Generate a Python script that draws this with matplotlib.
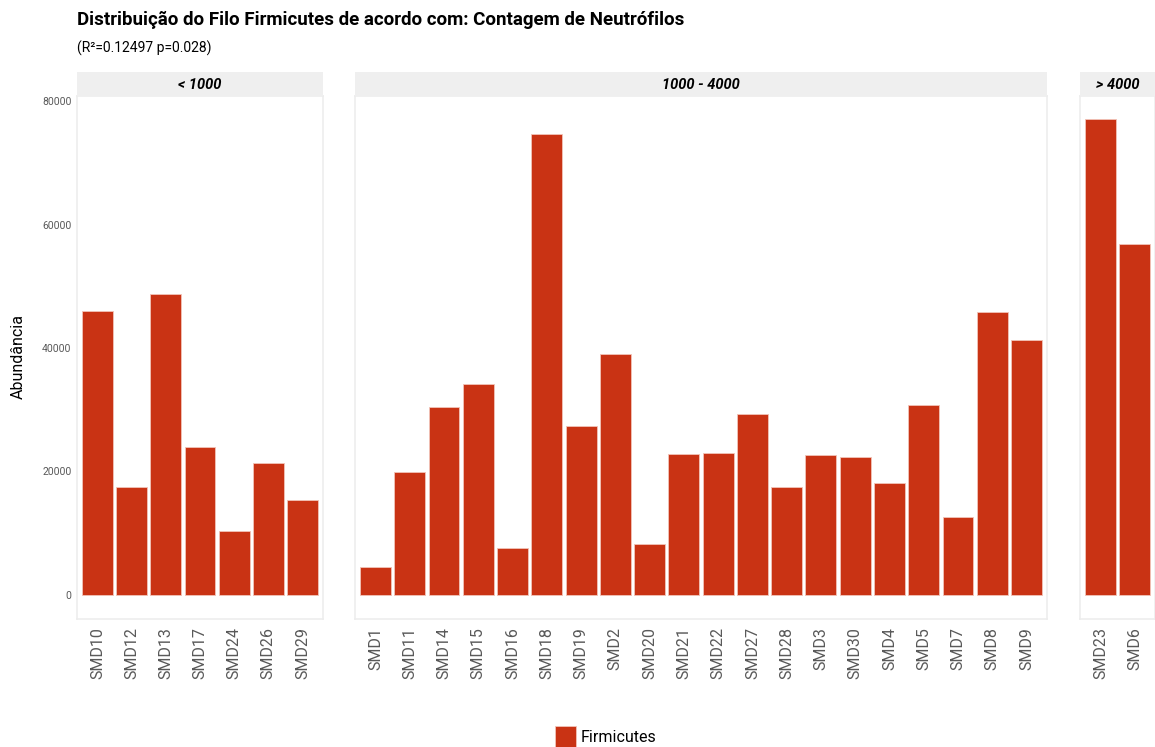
import matplotlib
matplotlib.use("Agg")
import matplotlib.pyplot as plt
from matplotlib import font_manager
from matplotlib.patches import Rectangle

# pick a narrow sans if there is one
names = {f.name for f in font_manager.fontManager.ttflist}
font = "Liberation Sans Narrow" if "Liberation Sans Narrow" in names else "Roboto"
plt.rcParams["font.family"] = [font, "DejaVu Sans"]

# Firmicutes abundance per sample, grouped by neutrophil count
grupos = ["< 1000", "1000 - 4000", "> 4000"]
amostras_1 = ["SMD10", "SMD12", "SMD13", "SMD17", "SMD24", "SMD26", "SMD29"]
valores_1 = [46000, 17500, 48700, 23900, 10300, 21400, 15350]
amostras_2 = ["SMD1", "SMD11", "SMD14", "SMD15", "SMD16", "SMD18", "SMD19", "SMD2",
              "SMD20", "SMD21", "SMD22", "SMD27", "SMD28", "SMD3", "SMD30", "SMD4",
              "SMD5", "SMD7", "SMD8", "SMD9"]
valores_2 = [4600, 19850, 30400, 34150, 7600, 74700, 27350, 38950,
             8250, 22900, 23000, 29250, 17550, 22600, 22300, 18100,
             30750, 12600, 45800, 41250]
amostras_3 = ["SMD23", "SMD6"]
valores_3 = [77050, 56850]

cor = "#C93314"
W, H = 1155, 747
fig = plt.figure(figsize=(W / 100, H / 100), dpi=100)

# panel extents in pixels (left, right)
paineis = [(77, 323), (355, 1047), (1080, 1155)]
top, bottom = 96, 619
strip_h = 24
dados = [(amostras_1, valores_1), (amostras_2, valores_2), (amostras_3, valores_3)]

ymin, ymax = -3887, 80810
for k, ((x0, x1), (nomes, vals)) in enumerate(zip(paineis, dados)):
    ax = fig.add_axes([x0 / W, 1 - bottom / H, (x1 - x0) / W, (bottom - top) / H])
    pos = list(range(len(nomes)))
    ax.bar(pos, vals, width=0.9, color=cor, edgecolor="#F2C4B8", linewidth=0.6)
    ax.set_xlim(-0.6, len(nomes) - 0.4)
    ax.set_ylim(ymin, ymax)
    ax.set_xticks(pos)
    ax.set_xticklabels(nomes, rotation=90, fontsize=11.5, color="#595959")
    ax.tick_params(axis="x", length=0, pad=6)
    ax.tick_params(axis="y", length=0, pad=4)
    if k == 0:
        ax.set_yticks([0, 20000, 40000, 60000, 80000])
        ax.set_yticklabels(["0", "20000", "40000", "60000", "80000"],
                           fontsize=7.5, color="#595959")
    else:
        ax.set_yticks([])
    for s in ax.spines.values():
        s.set_color("#EDEDED")
        s.set_linewidth(1.2)
    # facet strip
    sax = fig.add_axes([x0 / W, 1 - top / H, (x1 - x0) / W, strip_h / H])
    sax.set_facecolor("#EFEFEF")
    sax.set_xticks([])
    sax.set_yticks([])
    for s in sax.spines.values():
        s.set_visible(False)
    sax.text(0.5, 0.45, grupos[k], ha="center", va="center", fontsize=10.5,
             fontweight="bold", fontstyle="italic", transform=sax.transAxes)

fig.text(18 / W, 1 - 357 / H, "Abundância", rotation=90, fontsize=11.5,
         ha="center", va="center")
fig.text(77 / W, 1 - 20 / H, "Distribuição do Filo Firmicutes de acordo com: Contagem de Neutrófilos",
         fontsize=13.5, fontweight="bold", ha="left", va="center")
fig.text(77 / W, 1 - 48 / H, "(R²=0.12497 p=0.028)", fontsize=10, ha="left", va="center")

# legend
fig.patches.append(Rectangle((555 / W, 1 - 747 / H), 21 / W, 21 / H, transform=fig.transFigure,
                             facecolor=cor, edgecolor="#F2C4B8", linewidth=0.6))
fig.text(581 / W, 1 - 737 / H, "Firmicutes", fontsize=11.5, ha="left", va="center")

fig.savefig("out.png", dpi=100, facecolor="white")
